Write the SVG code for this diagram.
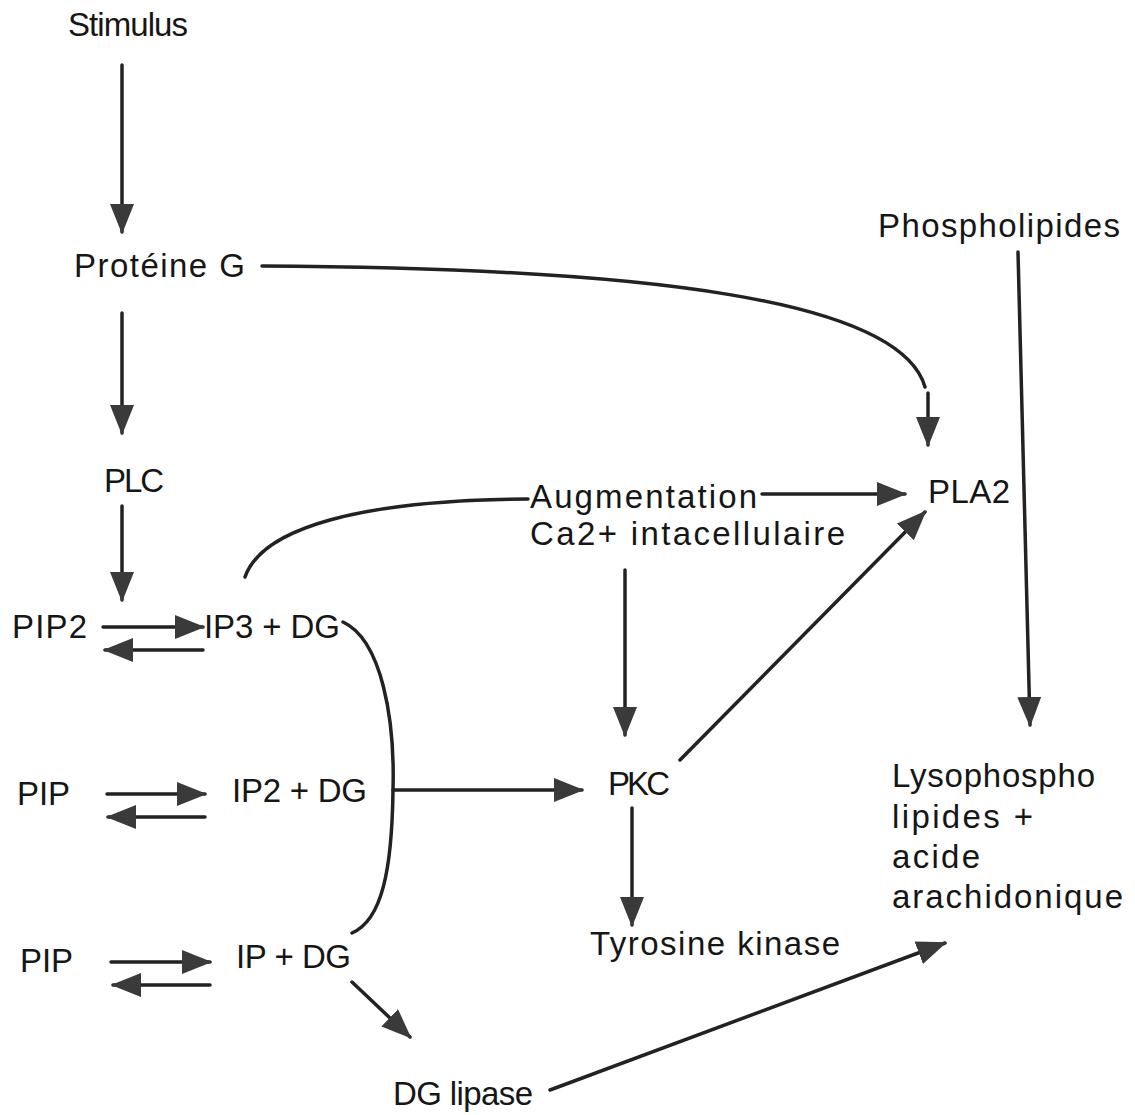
<svg xmlns="http://www.w3.org/2000/svg" width="1135" height="1115" viewBox="0 0 1135 1115">
<defs>
<style>
text{font-family:"Liberation Sans",Arial,sans-serif;font-size:33px;fill:#161616}
.c{fill:none;stroke:#222;stroke-width:3.5;stroke-linecap:round}
.a{marker-end:url(#ah)}
</style>
<marker id="ah" markerUnits="userSpaceOnUse" markerWidth="31" markerHeight="26" refX="28" refY="12" orient="auto" viewBox="0 0 31 26">
<path d="M0,0 L30,12 L0,24 z" fill="#3a3a3a"/>
</marker>
</defs>
<rect width="1135" height="1115" fill="#fff"/>
<g id="connectors">
<path class="c a" d="M122,65 L122,232"/>
<path class="c a" d="M122,313 L122,433"/>
<path class="c a" d="M122,506 L122,600"/>
<path class="c" d="M262,266 C650,268 900,300 925,387"/>
<path class="c a" d="M928,393 L928,445"/>
<path class="c a" d="M103,627 L203,627"/>
<path class="c a" d="M203,650 L105,650"/>
<path class="c a" d="M107,794 L205,794"/>
<path class="c a" d="M205,817 L108,817"/>
<path class="c a" d="M111,962 L210,962"/>
<path class="c a" d="M210,985 L113,985"/>
<path class="c" d="M245,577 C262,528 360,500 528,499"/>
<path class="c a" d="M762,494 L905,494"/>
<path class="c" d="M343,622 C382,640 395,720 393,790 C392,870 382,920 352,933"/>
<path class="c a" d="M393,790 L582,790"/>
<path class="c a" d="M625,570 L625,735"/>
<path class="c a" d="M680,760 L925,512"/>
<path class="c a" d="M632,808 L632,925"/>
<path class="c a" d="M1018,252 L1030,725"/>
<path class="c a" d="M352,982 L410,1037"/>
<path class="c a" d="M550,1090 L945,943"/>
</g>
<g id="stimulus"><text x="68" y="36" font-size="31" textLength="120" lengthAdjust="spacing">Stimulus</text></g>
<g id="proteine-g"><text x="74" y="277" textLength="171" lengthAdjust="spacing">Protéine G</text></g>
<g id="plc"><text x="104" y="492" textLength="60" lengthAdjust="spacing">PLC</text></g>
<g id="pip2"><text x="12" y="638" textLength="75" lengthAdjust="spacing">PIP2</text></g>
<g id="ip3-dg"><text x="204" y="638" textLength="136" lengthAdjust="spacing">IP3 + DG</text></g>
<g id="pip-1"><text x="17" y="805" textLength="53" lengthAdjust="spacing">PIP</text></g>
<g id="ip2-dg"><text x="232" y="802" textLength="135" lengthAdjust="spacing">IP2 + DG</text></g>
<g id="pip-2"><text x="20" y="972" textLength="53" lengthAdjust="spacing">PIP</text></g>
<g id="ip-dg"><text x="236" y="968" textLength="115" lengthAdjust="spacing">IP + DG</text></g>
<g id="dg-lipase"><text x="393" y="1105" textLength="140" lengthAdjust="spacing">DG lipase</text></g>
<g id="augmentation"><text x="530" y="508" textLength="227" lengthAdjust="spacing">Augmentation</text><text x="530" y="545" textLength="315" lengthAdjust="spacing">Ca2+  intacellulaire</text></g>
<g id="pla2"><text x="928" y="503" textLength="82" lengthAdjust="spacing">PLA2</text></g>
<g id="pkc"><text x="608" y="795" textLength="62" lengthAdjust="spacing">PKC</text></g>
<g id="tyrosine-kinase"><text x="590" y="955" textLength="250" lengthAdjust="spacing">Tyrosine  kinase</text></g>
<g id="phospholipides"><text x="878" y="237" textLength="242" lengthAdjust="spacing">Phospholipides</text></g>
<g id="lysophospholipides"><text x="892" y="787" textLength="203" lengthAdjust="spacing">Lysophospho</text><text x="892" y="828" textLength="141" lengthAdjust="spacing">lipides  +</text><text x="892" y="868" textLength="88" lengthAdjust="spacing">acide</text><text x="892" y="908" textLength="231" lengthAdjust="spacing">arachidonique</text></g>
</svg>
